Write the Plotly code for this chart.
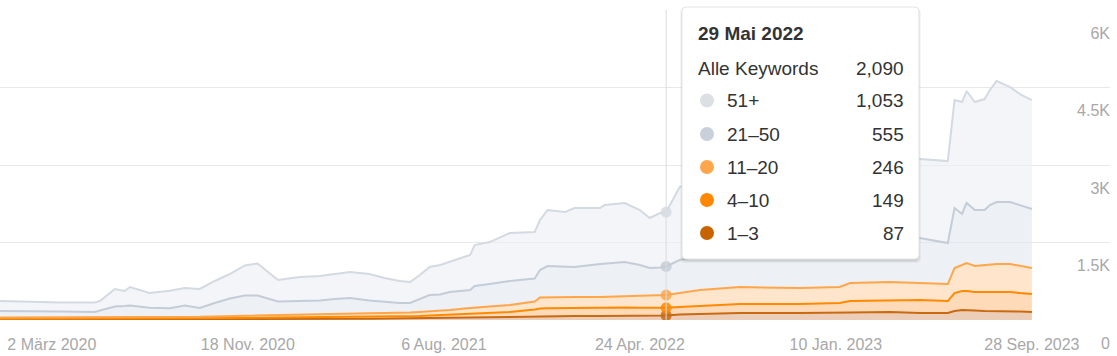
import plotly.graph_objects as go
import numpy as np

# ---------------- data ----------------
dates = [
    "2019-12-24", "2020-02-02", "2020-03-13", "2020-04-28", "2020-05-05", "2020-05-25",
    "2020-06-07", "2020-06-14", "2020-07-10", "2020-08-06", "2020-08-26", "2020-09-15",
    "2020-10-05", "2020-10-25", "2020-11-14", "2020-12-01", "2020-12-28", "2021-01-26",
    "2021-02-22", "2021-03-14", "2021-04-03", "2021-04-29", "2021-05-19", "2021-06-08",
    "2021-06-22", "2021-07-05", "2021-07-18", "2021-08-01", "2021-08-14", "2021-09-10",
    "2021-09-16", "2021-10-06", "2021-11-02", "2021-12-05", "2021-12-12", "2021-12-22",
    "2022-01-14", "2022-01-27", "2022-03-02", "2022-03-08", "2022-04-04", "2022-04-24",
    "2022-05-07", "2022-05-21", "2022-05-29", "2022-06-16", "2022-07-13", "2022-09-04",
    "2022-11-23", "2023-01-15", "2023-01-29", "2023-03-23", "2023-05-02", "2023-06-08",
    "2023-06-17", "2023-06-27", "2023-07-03", "2023-07-14", "2023-07-27", "2023-08-03",
    "2023-08-12", "2023-08-30", "2023-09-12", "2023-09-28",
]
kw_1_3 = [
    10, 10, 10, 10, 10, 10, 10, 10, 11, 12, 13, 14,
    14, 15, 17, 19, 19, 19, 19, 21, 23, 25, 27, 29,
    31, 33, 35, 39, 43, 48, 50, 54, 58, 68, 77, 77,
    77, 77, 77, 77, 81, 83, 85, 87, 87, 106, 116, 135,
    135, 135, 145, 155, 135, 135, 174, 194, 194, 184, 174, 174,
    174, 174, 164, 155,
]
kw_4_10 = [
    15, 15, 15, 15, 15, 15, 15, 15, 16, 18, 20, 21,
    21, 23, 25, 25, 27, 29, 31, 33, 35, 37, 39, 39,
    41, 44, 52, 58, 60, 68, 74, 81, 97, 135, 145, 149,
    155, 155, 164, 164, 161, 155, 151, 147, 149, 145, 155, 174,
    174, 194, 223, 232, 252, 232, 348, 368, 368, 358, 368, 368,
    368, 368, 358, 348,
]
kw_11_20 = [
    23, 23, 23, 23, 23, 23, 23, 23, 24, 25, 26, 27,
    35, 39, 41, 43, 50, 58, 62, 66, 68, 68, 68, 68,
    72, 77, 77, 77, 91, 116, 118, 126, 135, 155, 213, 213,
    209, 213, 203, 207, 223, 230, 238, 244, 246, 271, 310, 329,
    310, 310, 348, 348, 329, 329, 484, 503, 542, 503, 522, 522,
    542, 542, 522, 503,
]
kw_21_50 = [
    126, 126, 116, 106, 135, 213, 223, 232, 184, 174, 223, 170,
    259, 339, 391, 387, 261, 261, 265, 286, 300, 248, 215, 194,
    186, 252, 319, 319, 348, 348, 416, 435, 464, 445, 532, 606,
    584, 581, 639, 644, 658, 596, 532, 538, 555, 639, 658, 677,
    774, 851, 793, 832, 871, 793, 1161, 987, 1161, 1084, 1064, 1161,
    1200, 1200, 1180, 1142,
]
kw_51_plus = [
    194, 174, 174, 184, 184, 339, 290, 358, 290, 339, 339, 368,
    426, 474, 581, 619, 416, 464, 474, 484, 503, 513, 464, 426,
    406, 464, 542, 571, 581, 677, 793, 813, 929, 900, 968, 1084,
    1064, 1142, 1084, 1132, 1142, 1064, 968, 1055, 1053, 1413, 1471, 1471,
    1471, 1471, 1471, 1490, 1529, 1587, 2090, 2167, 2167, 2090, 2148, 2225,
    2341, 2225, 2148, 2109,
]

series_names = ["1–3", "4–10", "11–20", "21–50", "51+"]
tick_dates = ["2020-03-02", "2020-11-18", "2021-08-06", "2022-04-24", "2023-01-10", "2023-09-28"]
tick_texts = ["2 März 2020", "18 Nov. 2020", "6 Aug. 2021", "24 Apr. 2022", "10 Jan. 2023", "28 Sep. 2023"]
y_ticks = [0, 1500, 3000, 4500, 6000]
y_tick_texts = ["0", "1.5K", "3K", "4.5K", "6K"]
hover_date = "2022-05-29"
hover_title = "29 Mai 2022"
total_label = "Alle Keywords"

# ---------------- styling ----------------
line_colors = ["#c96a12", "#ff8a00", "#ffa64a", "#c4cdd7", "#d4dae2"]
fill_colors = ["rgba(230,190,160,0.75)", "rgba(255,205,160,0.75)", "rgba(255,222,190,0.8)",
               "rgba(225,230,237,0.6)", "rgba(236,239,243,0.6)"]
dot_colors = ["#c86400", "#ff8800", "#ffa64d", "#c8d0da", "#dce0e5"]
FONT = "Arial, Liberation Sans, sans-serif"
TIP_SIZE = 19

W, H = 1117, 356
ML, MR, MT, MB = 0, 7, 10, 36
PW = W - ML - MR
PH = H - MT - MB


def px(x):
    return (x - ML) / PW


def py(y):
    return (H - MB - y) / PH


values = [kw_1_3, kw_4_10, kw_11_20, kw_21_50, kw_51_plus]

fig = go.Figure()
for name, vals, lc, fc in zip(series_names, values, line_colors, fill_colors):
    fig.add_trace(go.Scatter(
        x=dates, y=vals, name=name, mode="lines", stackgroup="one",
        line=dict(color=lc, width=2), fillcolor=fc, hoverinfo="skip",
    ))

# hover markers
idx = dates.index(hover_date)
cum = np.cumsum([v[idx] for v in values])
fig.add_trace(go.Scatter(
    x=[hover_date] * len(cum), y=cum, mode="markers",
    marker=dict(size=11, color=line_colors, opacity=0.85),
    hoverinfo="skip", showlegend=False,
))

shapes = []
# crosshair
shapes.append(dict(type="line", xref="x", yref="paper", x0=hover_date, x1=hover_date,
                   y0=0, y1=1, line=dict(color="#dcdcdc", width=1), layer="above"))


def rrect_path(x0, y0, x1, y1, r):
    pts = [
        f"M{px(x0 + r)},{py(y0)}",
        f"L{px(x1 - r)},{py(y0)}",
        f"Q{px(x1)},{py(y0)} {px(x1)},{py(y0 + r)}",
        f"L{px(x1)},{py(y1 - r)}",
        f"Q{px(x1)},{py(y1)} {px(x1 - r)},{py(y1)}",
        f"L{px(x0 + r)},{py(y1)}",
        f"Q{px(x0)},{py(y1)} {px(x0)},{py(y1 - r)}",
        f"L{px(x0)},{py(y0 + r)}",
        f"Q{px(x0)},{py(y0)} {px(x0 + r)},{py(y0)}",
        "Z",
    ]
    return " ".join(pts)


bx0, by0, bx1, by1 = 682, 7, 919, 259
# shadows
for off, a in [(3, 0.04), (2, 0.05), (1, 0.06)]:
    shapes.append(dict(type="path", xref="paper", yref="paper",
                       path=rrect_path(bx0 - off + 1, by0 + 1, bx1 + off - 1, by1 + off + 1, 5),
                       fillcolor=f"rgba(0,0,0,{a})", line=dict(width=0), layer="above"))
shapes.append(dict(type="path", xref="paper", yref="paper",
                   path=rrect_path(bx0, by0, bx1, by1, 4),
                   fillcolor="white", line=dict(color="#e3e3e3", width=1), layer="above"))

annotations = []
annotations.append(dict(xref="paper", yref="paper", x=px(696), y=py(33), xanchor="left",
                        yanchor="middle", text=f"<b>{hover_title}</b>", showarrow=False,
                        font=dict(family=FONT, size=TIP_SIZE, color="#333333")))
total = int(sum(v[idx] for v in values))
annotations.append(dict(xref="paper", yref="paper", x=px(696), y=py(68), xanchor="left",
                        yanchor="middle", text=total_label, showarrow=False,
                        font=dict(family=FONT, size=TIP_SIZE, color="#333333")))
annotations.append(dict(xref="paper", yref="paper", x=px(906), y=py(68), xanchor="right",
                        yanchor="middle", text=f"{total:,}", showarrow=False,
                        font=dict(family=FONT, size=TIP_SIZE, color="#333333")))
row_y = [233, 200, 167, 134, 100.5]  # bottom-to-top order matching series
for name, vals, dc, ry in zip(series_names, values, dot_colors, row_y):
    shapes.append(dict(type="circle", xref="paper", yref="paper",
                       x0=px(700), x1=px(714), y0=py(ry + 7), y1=py(ry - 7),
                       fillcolor=dc, line=dict(width=0), layer="above"))
    annotations.append(dict(xref="paper", yref="paper", x=px(725), y=py(ry), xanchor="left",
                            yanchor="middle", text=name, showarrow=False,
                            font=dict(family=FONT, size=TIP_SIZE, color="#333333")))
    annotations.append(dict(xref="paper", yref="paper", x=px(906), y=py(ry), xanchor="right",
                            yanchor="middle", text=f"{int(vals[idx]):,}", showarrow=False,
                            font=dict(family=FONT, size=TIP_SIZE, color="#333333")))

fig.update_layout(
    width=W, height=H,
    margin=dict(l=ML, r=MR, t=MT, b=MB, pad=0, autoexpand=False),
    paper_bgcolor="white", plot_bgcolor="white",
    showlegend=False,
    shapes=shapes, annotations=annotations,
    font=dict(family=FONT),
)
fig.update_xaxes(
    range=["2019-12-24", "2024-01-10"], automargin=False,
    tickmode="array", tickvals=tick_dates, ticktext=tick_texts,
    showgrid=False, zeroline=False, showline=False, ticks="",
    ticklabelstandoff=13,
    tickfont=dict(family=FONT, size=16, color="#a8a8a8"),
)
fig.update_yaxes(
    range=[0, 6000], side="right", automargin=False,
    tickmode="array", tickvals=y_ticks, ticktext=y_tick_texts,
    ticklabelposition="inside", ticklabelshift=23, ticklabelstandoff=-3,
    ticklabeloverflow="allow",
    showgrid=True, gridcolor="#e8e8e8", gridwidth=1,
    zeroline=False, showline=False, ticks="",
    tickfont=dict(family=FONT, size=16, color="#a8a8a8"),
)

fig.write_html("out.html", config={"displayModeBar": False},
               post_script="document.body.style.margin='0';document.body.style.overflow='hidden';")
